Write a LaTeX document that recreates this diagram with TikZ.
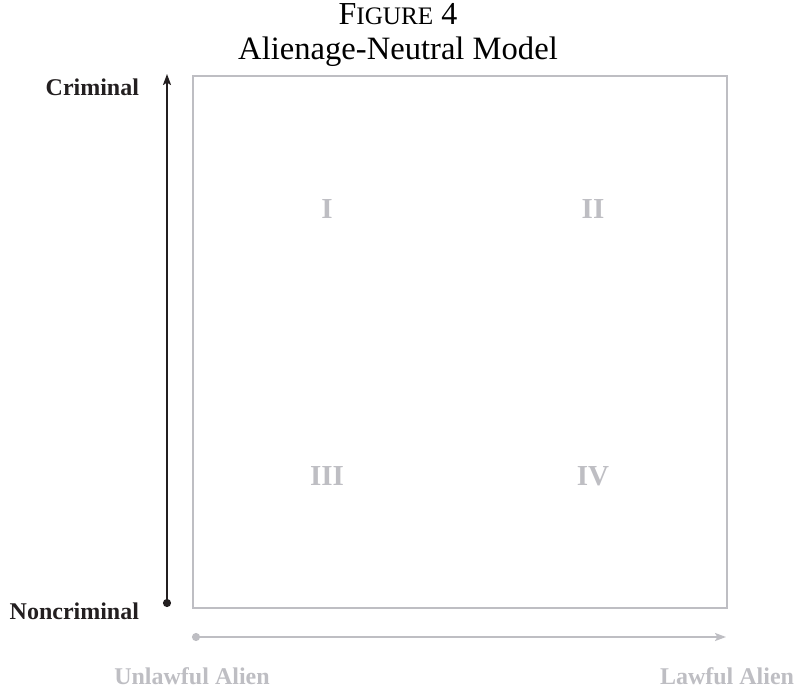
\documentclass[tikz,border=0pt]{standalone}
\usepackage{fontspec}
\setmainfont{Liberation Serif}
\usepackage{xcolor}
\usetikzlibrary{arrows.meta,positioning}
\definecolor{quadgray}{RGB}{190,190,195}
\definecolor{inkblack}{RGB}{35,31,32}

\begin{document}
\begin{tikzpicture}[x=0.5pt, y=-0.5pt]
		\tikzstyle{every node}=[inner sep=0pt, outer sep=0pt]
		\tikzstyle{axislabel}=[font=\fontsize{12}{14}\selectfont\bfseries, text=inkblack]
		\tikzstyle{alienlabel}=[font=\fontsize{12}{14}\selectfont\bfseries, text=quadgray]
		\tikzstyle{quadlabel}=[font=\fontsize{14.5}{16}\selectfont\bfseries, text=quadgray, anchor=base]
		\tikzstyle{axisarrow}=[line width=1pt, {Circle[length=4pt]}-{Stealth[length=5.5pt,width=4pt,inset=1.2pt]}]
		\useasboundingbox (0,0) rectangle (796,689);
		% title
		\node (figno) [anchor=base, font=\fontsize{16}{18}\selectfont] at (398,25) {F{\fontsize{12.6}{14}\selectfont IGURE} 4};
		\node (figtitle) [anchor=base, font=\fontsize{16.3}{18}\selectfont] at (398,60) {Alienage-Neutral Model};
		% quadrant box
		\draw [line width=1pt, quadgray] (193,76) rectangle (727,608);
		\node (q1) [quadlabel] at (327,219) {I};
		\node (q2) [quadlabel] at (593,219) {II};
		\node (q3) [quadlabel] at (327,485) {III};
		\node (q4) [quadlabel] at (593,485) {IV};
		% vertical axis
		\coordinate (vlow) at (167,607);
		\coordinate (vhigh) at (167,74);
		\draw [axisarrow, inkblack] (vlow) -- (vhigh);
		\node (crim) [axislabel, anchor=base east] at (139,96) {Criminal};
		\node (noncrim) [axislabel, anchor=base east] at (139,619) {Noncriminal};
		% horizontal axis
		\coordinate (hlow) at (192,637);
		\coordinate (hhigh) at (726,637);
		\draw [axisarrow, quadgray] (hlow) -- (hhigh);
		\node (unlawful) [alienlabel, anchor=base] at (192,684) {Unlawful Alien};
		\node (lawful) [alienlabel, anchor=base] at (727,684) {Lawful Alien};
	\end{tikzpicture}
\end{document}
